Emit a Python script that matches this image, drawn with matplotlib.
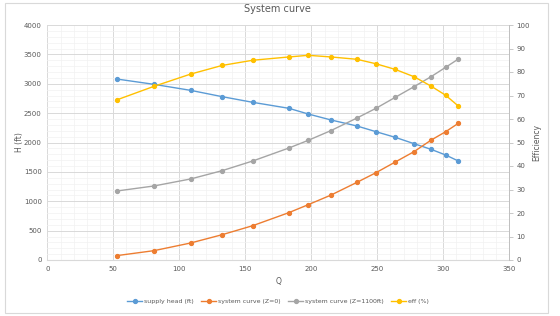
import matplotlib
matplotlib.use("Agg")
import matplotlib.pyplot as plt
from matplotlib.patches import Rectangle
from matplotlib.ticker import MultipleLocator

# values
q = [52.5, 80.8, 108.5, 132.5, 155.6, 183.0, 197.7, 215.0, 234.6,
     249.0, 263.6, 277.8, 290.7, 301.8, 311.4]
supply_head = [3081, 2990, 2888, 2780, 2684, 2582, 2485, 2383, 2281,
               2184, 2088, 1980, 1884, 1787, 1685]
system_z0 = [74, 159, 289, 431, 584, 806, 942, 1106, 1322,
             1486, 1668, 1844, 2040, 2184, 2327]
system_z1100 = [1174, 1260, 1379, 1521, 1685, 1906, 2037, 2204, 2417,
                2582, 2769, 2950, 3120, 3280, 3421]
eff = [68.1, 73.9, 79.1, 82.8, 85.0, 86.4, 87.1, 86.4, 85.4,
       83.5, 81.1, 78.0, 74.0, 70.1, 65.5]

TXT = "#595959"
W, H = 560, 316

fig = plt.figure(figsize=(W / 100, H / 100), dpi=100)
fig.patches.append(Rectangle((5 / W, 3 / H), 543 / W, 310 / H, transform=fig.transFigure,
                             fill=False, edgecolor="#D9D9D9", lw=0.8))

ax = fig.add_axes([47.3 / W, 1 - 260 / H, 462 / W, 235 / H])
ax2 = ax.twinx()

kw = dict(marker="o", markersize=2.8, lw=1.0)
l1, = ax.plot(q, supply_head, color="#5B9BD5", label="supply head (ft)", **kw)
l2, = ax.plot(q, system_z0, color="#ED7D31", label="system curve (Z=0)", **kw)
l3, = ax.plot(q, system_z1100, color="#A5A5A5", label="system curve (Z=1100ft)", **kw)
l4, = ax2.plot(q, eff, color="#FFC000", label="eff (%)", **kw)

ax.set_xlim(0, 350)
ax.set_ylim(0, 4000)
ax2.set_ylim(0, 100)
ax.xaxis.set_major_locator(MultipleLocator(50))
ax.xaxis.set_minor_locator(MultipleLocator(10))
ax.yaxis.set_major_locator(MultipleLocator(500))
ax.yaxis.set_minor_locator(MultipleLocator(100))
ax2.yaxis.set_major_locator(MultipleLocator(10))

ax.grid(which="major", color="#D9D9D9", lw=0.7)
ax.grid(which="minor", color="#F2F2F2", lw=0.5)
ax.set_axisbelow(True)

for a in (ax, ax2):
    for s in a.spines.values():
        s.set_visible(False)
ax.spines["bottom"].set_visible(True)
ax.spines["bottom"].set_color("#D9D9D9")
ax2.spines["right"].set_visible(True)
ax2.spines["right"].set_color("#BFBFBF")
ax2.spines["right"].set_linewidth(0.7)

ax.tick_params(which="both", length=0, labelsize=5, labelcolor=TXT, pad=4)
ax2.tick_params(axis="y", length=3, color="#BFBFBF", width=0.6, labelsize=5,
                labelcolor=TXT, pad=2)

ax.set_xlabel("Q", fontsize=5.5, color=TXT, labelpad=4)
ax.set_ylabel("H (ft)", fontsize=5.5, color=TXT, labelpad=0)
ax2.set_ylabel("Efficiency", fontsize=5.5, color=TXT, labelpad=2)

fig.text(277 / W, 1 - 9 / H, "System curve", ha="center", va="center",
         fontsize=7, color=TXT)

fig.legend(handles=[l1, l2, l3, l4], loc="center", bbox_to_anchor=(278 / W, 1 - 301 / H),
           ncol=4, frameon=False, fontsize=4.5, labelcolor=TXT, handlelength=2.4,
           columnspacing=1.2, handletextpad=0.3)

fig.savefig("out.png", dpi=100)
